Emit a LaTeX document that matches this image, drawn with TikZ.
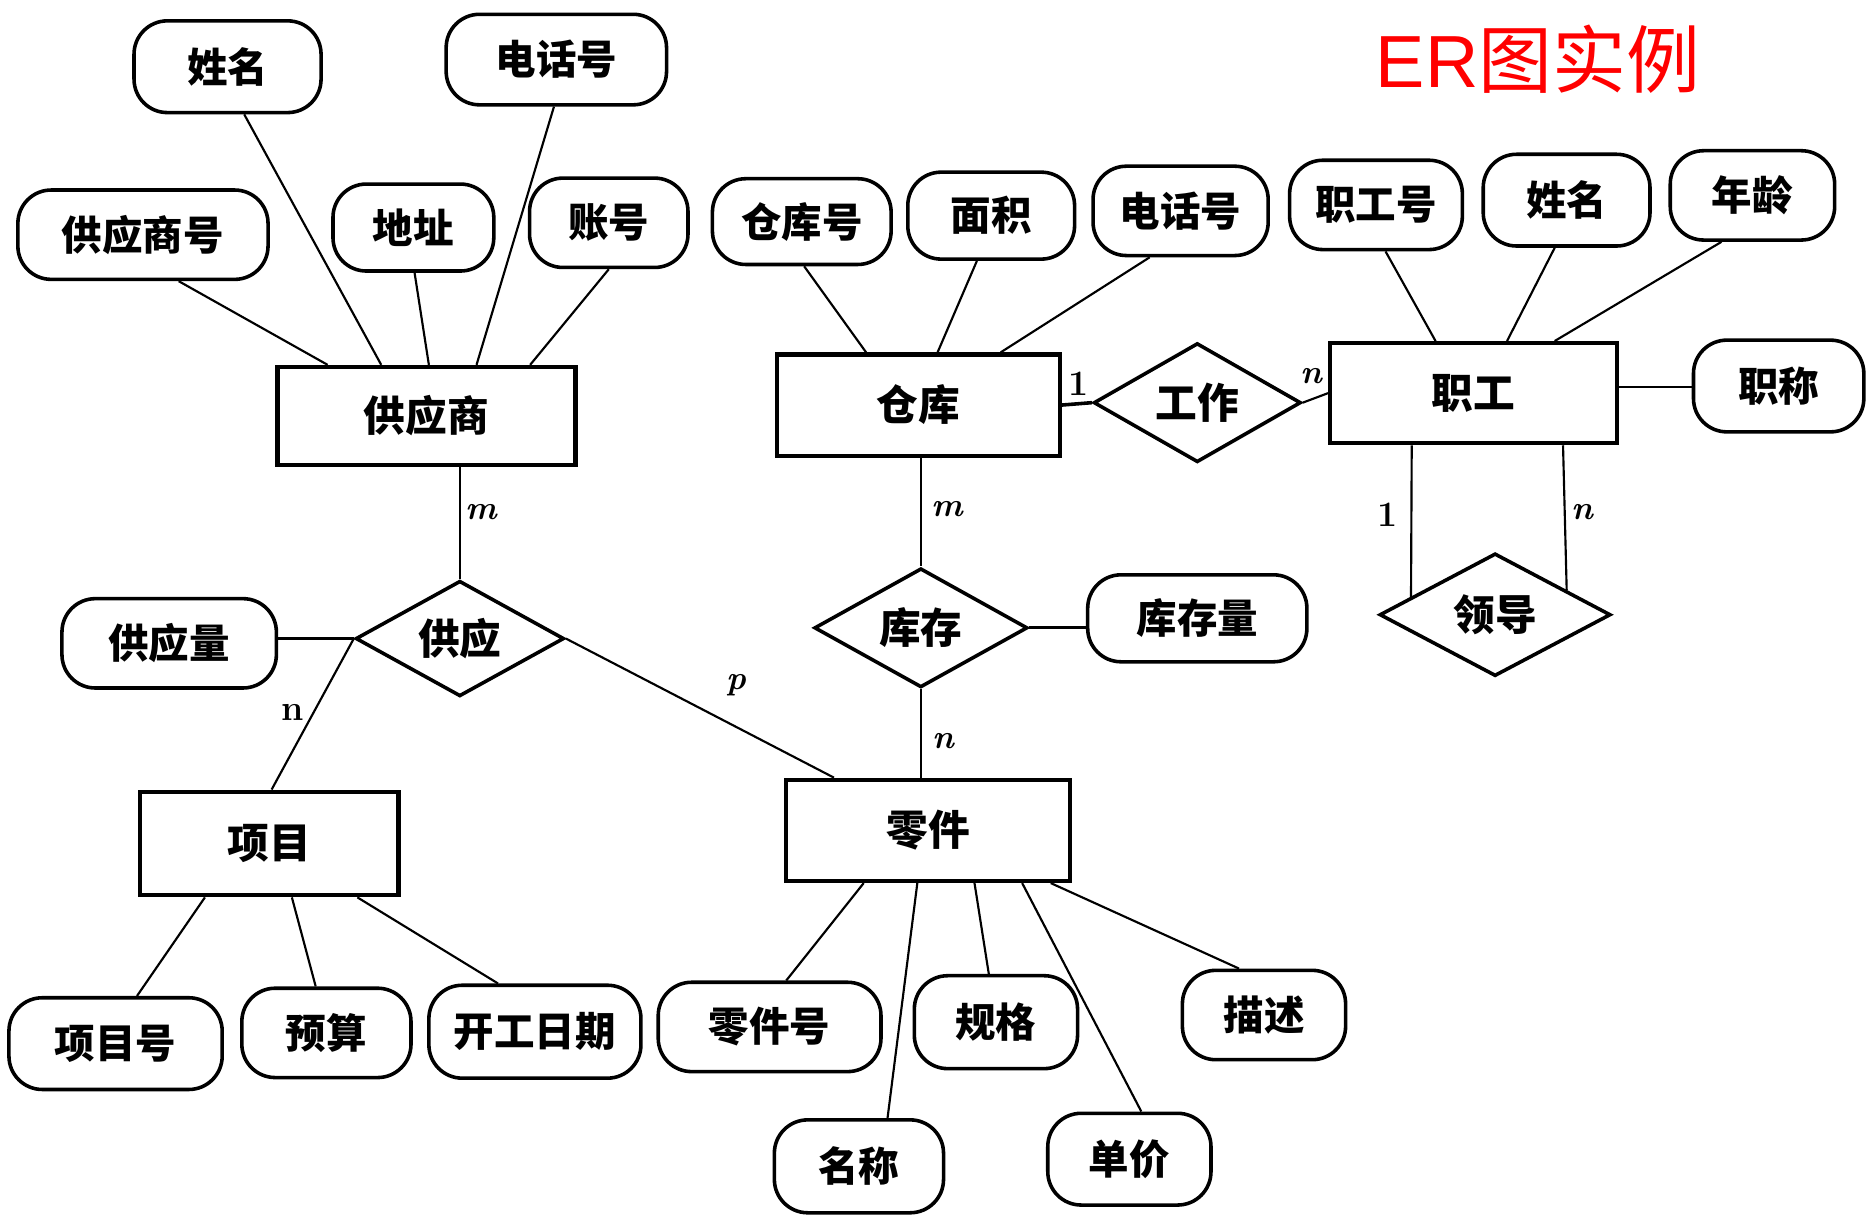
\documentclass[tikz,border=0pt]{standalone}
\usepackage{fontspec}
\newfontfamily\cjk{Noto Sans CJK SC}
\newfontfamily\titlesans{Liberation Sans}
\usetikzlibrary{shapes.geometric}
\tikzset{
  attr/.style={draw, line width=3pt, rounded corners=28pt, inner sep=0pt, font=\cjk\bfseries\fontsize{34}{40}\selectfont},
  ent/.style={draw, line width=3.5pt, inner sep=0pt, font=\cjk\bfseries\fontsize{35}{40}\selectfont},
  rel/.style={diamond, aspect=1.8, draw, line width=3pt, inner sep=0pt, font=\cjk\bfseries\fontsize{35}{40}\selectfont},
  conn/.style={line width=1.8pt},
  card/.style={font=\fontsize{28}{30}\selectfont\bfseries\itshape},
  cardup/.style={font=\fontsize{30}{32}\selectfont\bfseries}
}
\begin{document}
\begin{tikzpicture}[x=1pt,y=-1pt]
\useasboundingbox[fill=white] (0,0) rectangle (1568,1020);

% title
\node[text=red, inner sep=0pt] (title) at (1291,50) {\fontsize{62}{66}\selectfont\titlesans ER\cjk 图实例};

% supplier
\node[ent, minimum width=250pt, minimum height=82pt] (sup) at (358,349) {供应商};
\node[attr, minimum width=157pt, minimum height=77pt] (sname) at (191,56) {姓名};
\node[attr, minimum width=185pt, minimum height=76pt] (sphone) at (467,50) {电话号};
\node[attr, minimum width=210pt, minimum height=75pt] (sno) at (120,197) {供应商号};
\node[attr, minimum width=135pt, minimum height=73pt] (saddr) at (347,191) {地址};
\node[attr, minimum width=133pt, minimum height=75pt] (sacct) at (511,187) {账号};
\draw[conn] ([xshift=30pt]sno.south) -- ([xshift=-83pt]sup.north);
\draw[conn] ([xshift=14pt]sname.south) -- ([xshift=-38pt]sup.north);
\draw[conn] ([xshift=1pt]saddr.south) -- ([xshift=2pt]sup.north);
\draw[conn] ([xshift=-2pt]sphone.south) -- ([xshift=42pt]sup.north);
\draw[conn] (sacct.south) -- ([xshift=87pt]sup.north);

% warehouse
\node[ent, minimum width=237pt, minimum height=85pt] (wh) at (771,340) {仓库};
\node[attr, minimum width=150pt, minimum height=72pt] (whno) at (673,186) {仓库号};
\node[attr, minimum width=140pt, minimum height=73pt] (wharea) at (832,181) {面积};
\node[attr, minimum width=147pt, minimum height=75pt] (whphone) at (991,177) {电话号};
\draw[conn] ([xshift=2pt]whno.south) -- ([xshift=-44pt]wh.north);
\draw[conn] ([xshift=-12pt]wharea.south) -- ([xshift=16pt]wh.north);
\draw[conn] ([xshift=-26pt]whphone.south) -- ([xshift=69pt]wh.north);

% employee
\node[ent, minimum width=241pt, minimum height=84pt] (emp) at (1237,330) {职工};
\node[attr, minimum width=145pt, minimum height=75pt] (empno) at (1155,172) {职工号};
\node[attr, minimum width=140pt, minimum height=77pt] (empname) at (1315,168) {姓名};
\node[attr, minimum width=138pt, minimum height=75pt] (empage) at (1471,164) {年龄};
\node[attr, minimum width=143pt, minimum height=77pt] (emptitle) at (1493,324) {职称};
\draw[conn] ([xshift=8pt]empno.south) -- ([xshift=-32pt]emp.north);
\draw[conn] ([xshift=-10pt]empname.south) -- ([xshift=28pt]emp.north);
\draw[conn] ([xshift=-26pt]empage.south) -- ([xshift=68pt]emp.north);
\draw[conn] ([yshift=5pt]emp.east) -- ([yshift=5pt]emp.east -| emptitle.west);

% work relationship
\node[rel, minimum width=174pt, minimum height=100pt] (work) at (1005,338) {工作};
\draw[line width=3pt] (wh.east) -- (work.west);
\draw[conn] (work.east) -- (emp.west);
\node[cardup] (c1) at (905,322) {1};
\node[card] (c2) at (1101,316) {n};

% lead relationship
\node[rel, minimum width=194pt, minimum height=103pt] (lead) at (1255,516) {领导};
\draw[conn] ([xshift=-52pt]emp.south) -- (lead.168.5);
\draw[conn] ([xshift=75pt]emp.south) -- (lead.19.5);
\node[cardup] (c3) at (1165,432) {1};
\node[card] (c4) at (1328,430) {n};

% supply relationship
\node[rel, minimum width=175pt, minimum height=97pt] (supply) at (386,536) {供应};
\node[attr, minimum width=180pt, minimum height=75pt] (sqty) at (142,540) {供应量};
\node[ent, minimum width=217pt, minimum height=87pt] (proj) at (226,708) {项目};
\node[ent, minimum width=238pt, minimum height=85pt] (part) at (779,697) {零件};
\draw[conn] ([xshift=28pt]sup.south) -- (supply.north);
\draw[line width=2.5pt] (supply.west) -- (supply.west -| sqty.east);
\draw[conn] (supply.west) -- ([xshift=2pt]proj.north);
\draw[conn] (supply.east) -- ([xshift=-79pt]part.north);
\node[card] (c5) at (404,430) {m};
\node[cardup] (c6) at (246,598) {n};
\node[card] (c7) at (618,575) {p};

% project attributes
\node[attr, minimum width=179pt, minimum height=77pt] (projno) at (97,876) {项目号};
\node[attr, minimum width=142pt, minimum height=75pt] (budget) at (274,867) {预算};
\node[attr, minimum width=178pt, minimum height=78pt] (start) at (449,866) {开工日期};
\draw[conn] ([xshift=-54pt]proj.south) -- ([xshift=18pt]projno.north);
\draw[conn] ([xshift=19pt]proj.south) -- ([xshift=-9pt]budget.north);
\draw[conn] ([xshift=74pt]proj.south) -- ([xshift=-31pt]start.north);

% stock relationship
\node[rel, minimum width=179pt, minimum height=100pt] (stock) at (773,527) {库存};
\node[attr, minimum width=184pt, minimum height=73pt] (sqty2) at (1005,519) {库存量};
\draw[conn] ([xshift=2pt]wh.south) -- (stock.north);
\draw[line width=2.5pt] (stock.east) -- (stock.east -| sqty2.west);
\draw[conn] (stock.south) -- ([xshift=-6pt]part.north);
\node[card] (c8) at (795,427) {m};
\node[card] (c9) at (792,622) {n};

% part attributes
\node[attr, minimum width=187pt, minimum height=75pt] (partno) at (646,862) {零件号};
\node[attr, minimum width=137pt, minimum height=78pt] (spec) at (836,858) {规格};
\node[attr, minimum width=137pt, minimum height=75pt] (desc) at (1061,852) {描述};
\node[attr, minimum width=142pt, minimum height=78pt] (pname) at (721,979) {名称};
\node[attr, minimum width=137pt, minimum height=77pt] (price) at (948,973) {单价};
\draw[conn] ([xshift=-54pt]part.south) -- ([xshift=14pt]partno.north);
\draw[conn] ([xshift=-9pt]part.south) -- ([xshift=24pt]pname.north);
\draw[conn] ([xshift=39pt]part.south) -- ([xshift=-6pt]spec.north);
\draw[conn] ([xshift=79pt]part.south) -- ([xshift=10pt]price.north);
\draw[conn] ([xshift=103pt]part.south) -- ([xshift=-21pt]desc.north);
\end{tikzpicture}
\end{document}
